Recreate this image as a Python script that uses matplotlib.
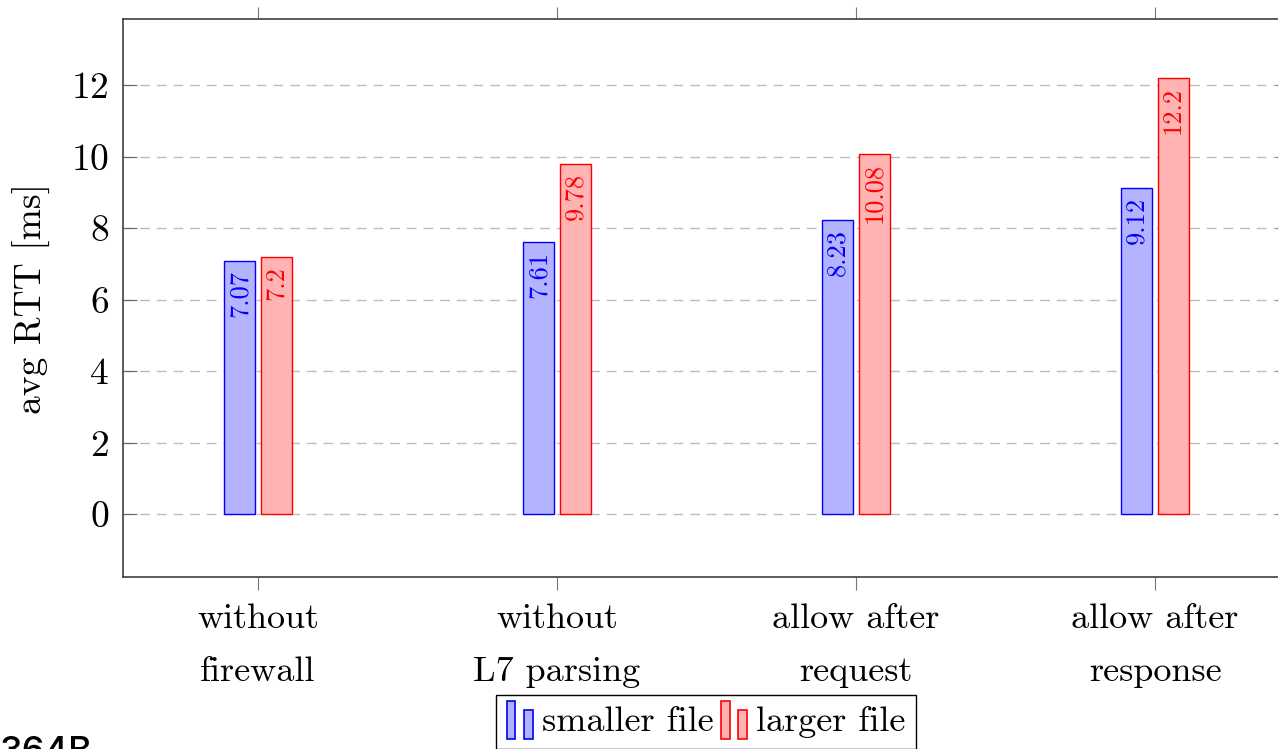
import numpy as np
import matplotlib.pyplot as plt
from matplotlib.patches import Rectangle
from matplotlib.legend_handler import HandlerBase

categories = ['without\nfirewall', 'without\nL7 parsing', 'allow after\nrequest', 'allow after\nresponse']
smaller_file = [7.07, 7.61, 8.23, 9.12]
larger_file = [7.2, 9.78, 10.08, 12.2]
label_smaller = ['7.07', '7.61', '8.23', '9.12']
label_larger = ['7.2', '9.78', '10.08', '12.2']
yticks = [0, 2, 4, 6, 8, 10, 12]

plt.rcParams['font.family'] = ['cmr10', 'DejaVu Serif']
plt.rcParams['axes.formatter.use_mathtext'] = True
plt.rcParams['mathtext.fontset'] = 'cm'

blue_fill = '#b3b3ff'
red_fill = '#ffb3b3'


class TwoBars(HandlerBase):
    # pgfplots-style ybar legend image: a tall bar and a short bar
    def __init__(self, face, edge):
        super().__init__()
        self.face = face
        self.edge = edge

    def create_artists(self, legend, orig_handle, xdescent, ydescent,
                       width, height, fontsize, trans):
        w = width * 0.33
        y0 = -ydescent - height * 0.3
        r1 = Rectangle((-xdescent, y0), w, height * 1.5,
                       facecolor=self.face, edgecolor=self.edge, lw=1.2, transform=trans)
        r2 = Rectangle((-xdescent + width * 0.64, y0), w, height * 1.15,
                       facecolor=self.face, edgecolor=self.edge, lw=1.2, transform=trans)
        return [r1, r2]


fig = plt.figure(figsize=(12.78, 7.49), dpi=100)
ax = fig.add_axes([123 / 1278, 1 - 577 / 749, (1290 - 123) / 1278, (577 - 19) / 749])

x = np.arange(len(categories))
off = 0.061
bw = 0.103
b1 = ax.bar(x - off, smaller_file, bw, color=blue_fill, edgecolor='blue', lw=1, zorder=3)
b2 = ax.bar(x + off, larger_file, bw, color=red_fill, edgecolor='red', lw=1, zorder=3)

for xi, v, t in zip(x - off, smaller_file, label_smaller):
    ax.text(xi, v - 0.25, t, rotation=90, ha='center', va='top', color='blue', fontsize=19, zorder=4)
for xi, v, t in zip(x + off, larger_file, label_larger):
    ax.text(xi, v - 0.25, t, rotation=90, ha='center', va='top', color='red', fontsize=19, zorder=4)

ax.set_xlim(-0.4515, 3.4515)
ax.set_ylim(-1.76, 13.85)
ax.set_xticks(x)
ax.set_xticklabels(categories, fontsize=26, linespacing=1.85)
ax.set_yticks(yticks)
ax.tick_params(axis='y', labelsize=27, direction='in', length=10, color='#666666', right=True, pad=10)
ax.tick_params(axis='x', direction='out', length=9, color='#777777', top=True, pad=10)
ax.grid(axis='y', color='#bdbdbd', linestyle=(0, (7, 5)), lw=1, zorder=1)
for s in ax.spines.values():
    s.set_color('#404040')
    s.set_linewidth(1.2)

ax.set_ylabel('avg RTT [ms]', fontsize=27)
ax.yaxis.set_label_coords(-0.062, 0.5)

ax.legend([b1, b2], ['smaller file', 'larger file'], ncol=2, fontsize=26,
          handler_map={b1: TwoBars(blue_fill, 'blue'), b2: TwoBars(red_fill, 'red')},
          loc='upper center', bbox_to_anchor=(706 / 1278, 1 - 695 / 749),
          bbox_transform=fig.transFigure, frameon=True, fancybox=False,
          edgecolor='black', framealpha=1, handlelength=0.75, handletextpad=0.22,
          columnspacing=0.22, borderpad=0.3, borderaxespad=0)

fig.text(0.0, -0.017, '364B', fontsize=26, family='Inter', fontweight='medium',
         ha='left', va='baseline')

fig.savefig('out.png', dpi=100)
